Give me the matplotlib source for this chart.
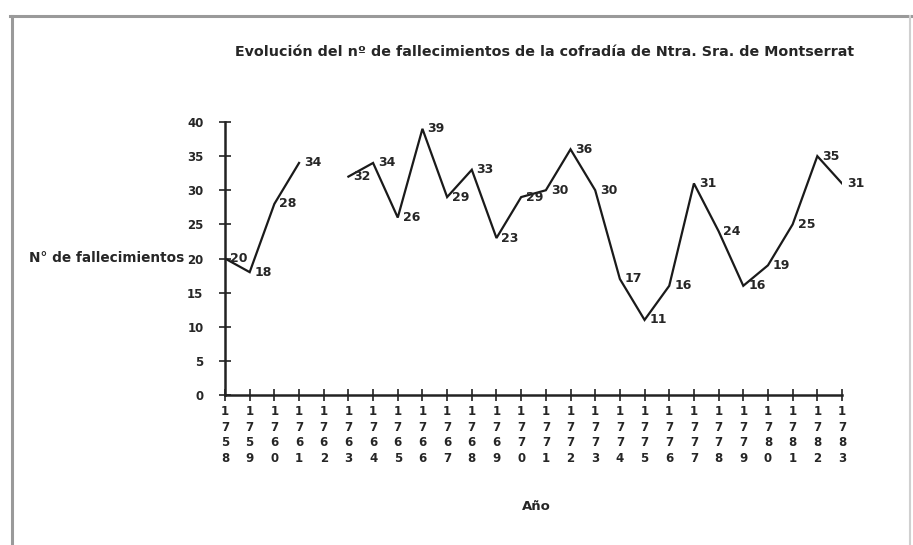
import numpy as np
import matplotlib
matplotlib.use("Agg")
import matplotlib.pyplot as plt
from matplotlib.lines import Line2D

plt.rcParams['font.family'] = ['DejaVu Sans']

years = list(range(1758, 1784))
deaths = [20, 18, 28, 34, np.nan, 32, 34, 26, 39, 29, 33, 23, 29, 30, 36, 30,
          17, 11, 16, 31, 24, 16, 19, 25, 35, 31]
title = "Evolución del nº de fallecimientos de la cofradía de Ntra. Sra. de Montserrat"
ylabel = "N° de fallecimientos"
xlabel = "Año"
yticks = [0, 5, 10, 15, 20, 25, 30, 35, 40]

W, H = 913, 545
TXT = '#262626'
fig = plt.figure(figsize=(W / 100, H / 100), dpi=100)
fig.patch.set_facecolor('white')

ax = fig.add_axes([225 / W, 1 - 395 / H, 617 / W, 273 / H])
ax.plot(years, deaths, color='#1a1a1a', lw=1.6, solid_joinstyle='miter')
ax.set_xlim(years[0], years[-1])
ax.set_ylim(0, 40)

for s in ['top', 'right']:
    ax.spines[s].set_visible(False)
for s in ['left', 'bottom']:
    ax.spines[s].set_color('#222222')
    ax.spines[s].set_linewidth(1.8)

ax.set_yticks(yticks)
ax.set_yticklabels([str(v) for v in yticks])
ax.set_xticks(years)
ax.set_xticklabels(["\n".join(str(y)) for y in years], linespacing=1.25)
ax.tick_params(axis='both', direction='inout', length=9, width=1.2, color='#222222',
               labelsize=8.5, labelcolor=TXT)
ax.tick_params(axis='x', pad=3)
ax.tick_params(axis='y', pad=11)
for lab in ax.get_xticklabels() + ax.get_yticklabels():
    lab.set_fontweight('bold')

for x, v in zip(years, deaths):
    if not np.isnan(v):
        ax.annotate(str(int(v)), (x, v), xytext=(3.5, 0), textcoords='offset points',
                    ha='left', va='center', fontsize=9, fontweight='bold', color=TXT)

fig.text(545 / W, 1 - 52 / H, title, ha='center', va='center', fontsize=10.3,
         fontweight='bold', color=TXT)
fig.text(184 / W, 1 - 258 / H, ylabel, ha='right', va='center', fontsize=9.8,
         fontweight='bold', color=TXT)
fig.text(536 / W, 1 - 507 / H, xlabel, ha='center', va='center', fontsize=9.5,
         fontweight='bold', color=TXT)

# chart frame
fig.add_artist(Line2D([10 / W, 1], [1 - 16 / H, 1 - 16 / H], color='#9a9a9a', lw=2.2,
                      transform=fig.transFigure))
fig.add_artist(Line2D([12 / W, 12 / W], [0, 1 - 16 / H], color='#9a9a9a', lw=2.2,
                      transform=fig.transFigure))
fig.add_artist(Line2D([910 / W, 910 / W], [0, 1 - 16 / H], color='#d0d0d0', lw=1.5,
                      transform=fig.transFigure))

fig.savefig("out.png", dpi=100, facecolor='white')
